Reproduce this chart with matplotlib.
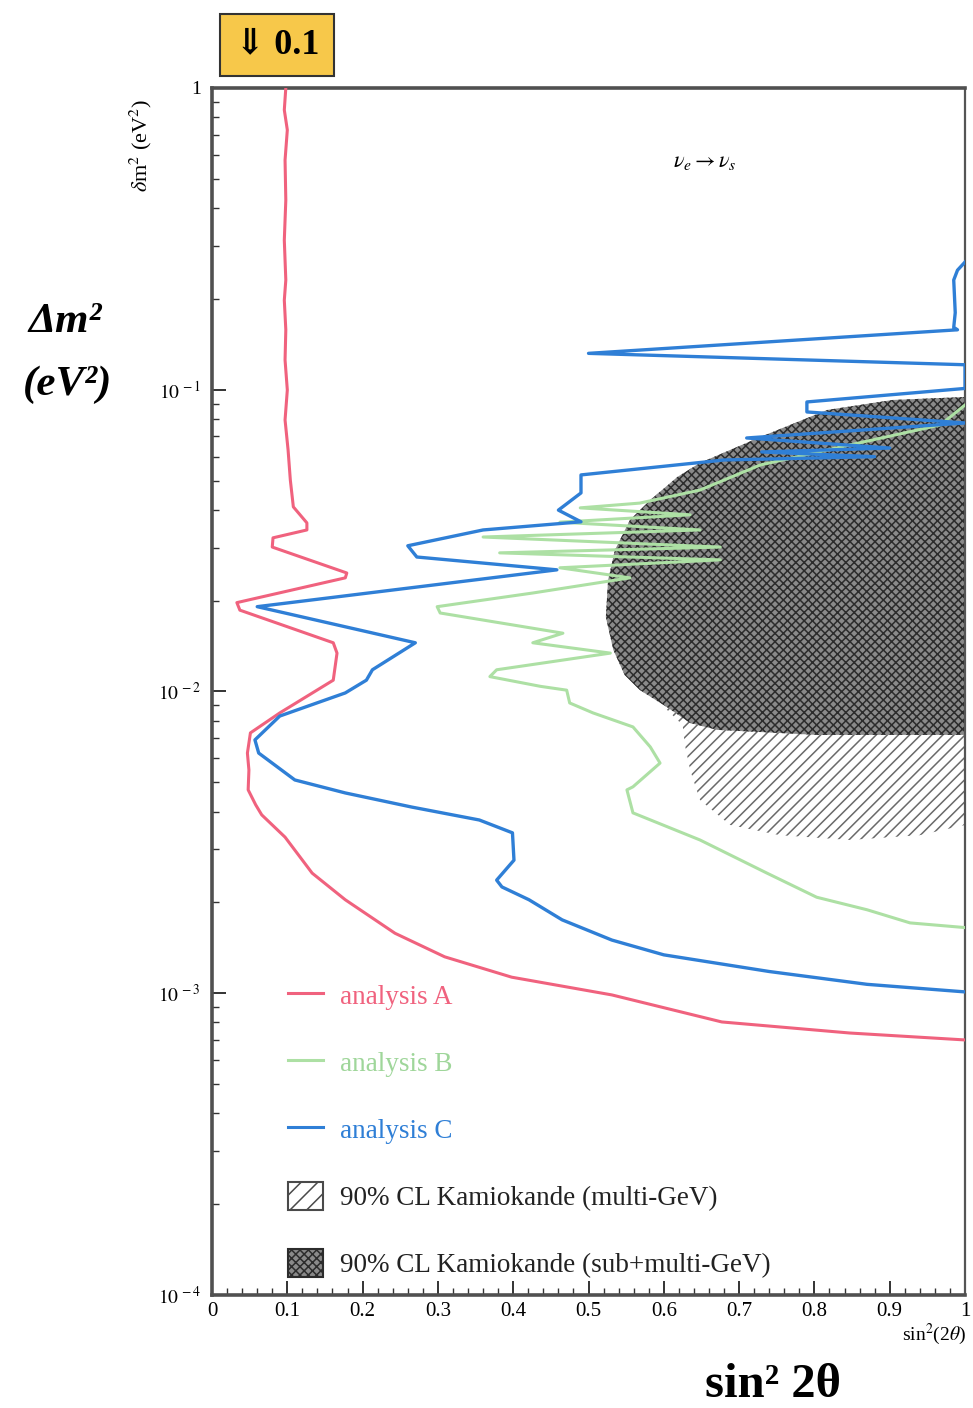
import math
import matplotlib.pyplot as plt
from matplotlib.lines import Line2D
from matplotlib.patches import Patch
from matplotlib.ticker import LogLocator, MultipleLocator, FuncFormatter, NullFormatter

plt.rcParams["font.family"] = ["Liberation Serif", "DejaVu Serif"]
plt.rcParams["mathtext.fontset"] = "stix"
plt.rcParams["hatch.linewidth"] = 1.1

# 90% CL exclusion contours, nu_e -> nu_s
a_sin2 = [0.098, 0.096, 0.100, 0.097, 0.098, 0.096, 0.098, 0.096, 0.098, 0.097,
          0.100, 0.097, 0.101, 0.104, 0.108, 0.126, 0.126, 0.081, 0.080, 0.179,
          0.177, 0.033, 0.037, 0.161, 0.166, 0.161, 0.090, 0.051, 0.047, 0.049,
          0.048, 0.058, 0.066, 0.097, 0.133, 0.177, 0.243, 0.309, 0.398, 0.531,
          0.677, 0.847, 1.0]
a_dm2 = [1.0, 0.846, 0.726, 0.577, 0.425, 0.313, 0.231, 0.198, 0.158, 0.1255,
         0.0998, 0.0794, 0.0632, 0.0502, 0.0409, 0.0362, 0.0343, 0.0323, 0.0301, 0.0247,
         0.0238, 0.0197, 0.0186, 0.0145, 0.0134, 0.0109, 0.00849, 0.00729, 0.00625, 0.00549,
         0.00472, 0.00421, 0.00390, 0.00329, 0.00250, 0.00204, 0.00158, 0.00132, 0.00113, 0.000987,
         0.000803, 0.000738, 0.000700]

b_sin2 = [1.0, 0.927, 0.870, 0.803, 0.737, 0.648, 0.559, 0.551, 0.559, 0.595,
          0.582, 0.559, 0.506, 0.475, 0.471, 0.436, 0.369, 0.378, 0.529, 0.426,
          0.466, 0.303, 0.299, 0.426, 0.555, 0.462, 0.675, 0.382, 0.675, 0.360,
          0.648, 0.462, 0.635, 0.489, 0.568, 0.648, 0.728, 0.847, 0.967, 1.0]
b_dm2 = [0.00165, 0.00171, 0.00189, 0.00208, 0.00250, 0.00322, 0.00396, 0.00472, 0.00483, 0.00579,
         0.00655, 0.00763, 0.00849, 0.00916, 0.0101, 0.0104, 0.0112, 0.0118, 0.0134, 0.0145,
         0.0156, 0.0182, 0.0191, 0.0212, 0.0238, 0.0257, 0.0273, 0.0288, 0.0301, 0.0325,
         0.0343, 0.0364, 0.0385, 0.0406, 0.0421, 0.0465, 0.0563, 0.0656, 0.0764, 0.089]

c_sin2 = [1.0, 0.99, 0.985, 0.987, 0.985, 0.99, 0.50, 1.0, 1.0, 0.79,
          0.79, 1.0, 0.71, 0.90, 0.73, 0.88, 0.68, 0.49, 0.49, 0.46,
          0.49, 0.36, 0.26, 0.272, 0.458, 0.06, 0.27, 0.213, 0.205, 0.177,
          0.09, 0.057, 0.062, 0.11, 0.177, 0.265, 0.355, 0.399, 0.401, 0.378,
          0.385, 0.421, 0.465, 0.531, 0.60, 0.74, 0.87, 1.0]
c_dm2 = [0.265, 0.249, 0.231, 0.180, 0.161, 0.158, 0.132, 0.121, 0.101, 0.0911,
         0.0844, 0.0776, 0.0692, 0.0641, 0.0622, 0.0600, 0.0585, 0.0522, 0.0455, 0.0399,
         0.0365, 0.0343, 0.0304, 0.0279, 0.0253, 0.0191, 0.0145, 0.0118, 0.0109, 0.00989,
         0.00829, 0.00691, 0.00625, 0.00509, 0.00461, 0.00414, 0.00375, 0.00340, 0.00276, 0.00237,
         0.00225, 0.00204, 0.00175, 0.00150, 0.00134, 0.00118, 0.00107, 0.00101]

# Kamiokande allowed regions
kam_multi_sin2 = [1.0, 0.80, 0.66, 0.60, 0.625, 0.628, 0.635, 0.648, 0.688, 0.754, 0.847, 0.94, 1.0]
kam_multi_dm2 = [0.09, 0.05, 0.02, 0.0089, 0.00774, 0.00665, 0.00549, 0.00437, 0.00361, 0.00334,
                 0.00322, 0.00334, 0.00361]

kam_sub_sin2 = [1.0, 0.904, 0.817, 0.728, 0.648, 0.618, 0.582, 0.555, 0.535, 0.526,
                0.523, 0.533, 0.548, 0.568, 0.604, 0.635, 0.671, 0.803, 1.0]
kam_sub_dm2 = [0.0946, 0.0925, 0.0857, 0.0697, 0.0572, 0.0514, 0.0431, 0.0370, 0.0294, 0.0234,
               0.01765, 0.01372, 0.01134, 0.01012, 0.00888, 0.00786, 0.00746, 0.00718, 0.00718]

red = "#f0627e"
green = "#ade0a4"
blue = "#2f7fd6"
cross_face = "#8a8a8a"
cross_line = "#2c2c2c"

fig = plt.figure(figsize=(9.73, 14.08), dpi=100)
ax = fig.add_axes([0.2179, 0.0803, 0.7739, 0.8572])

ax.fill(kam_multi_sin2, kam_multi_dm2, facecolor="white", edgecolor="#6a6a6a",
        hatch="///", linewidth=0, zorder=1)
ax.fill(kam_sub_sin2, kam_sub_dm2, facecolor=cross_face, edgecolor=cross_line,
        hatch="xxxx", linewidth=0, zorder=2)

ax.plot(b_sin2, b_dm2, color=green, lw=2.2, zorder=3)
ax.plot(a_sin2, a_dm2, color=red, lw=2.2, zorder=4)
ax.plot(c_sin2, c_dm2, color=blue, lw=2.4, zorder=5)

ax.set_xlim(0, 1)
ax.set_yscale("log")
ax.set_ylim(1e-4, 1)

ax.xaxis.set_major_locator(MultipleLocator(0.1))
ax.xaxis.set_minor_locator(MultipleLocator(0.02))
ax.xaxis.set_major_formatter(FuncFormatter(lambda v, p: f"{v:g}"))
ax.yaxis.set_major_locator(LogLocator(base=10))
ax.yaxis.set_minor_locator(LogLocator(base=10, subs=range(2, 10)))
ax.yaxis.set_minor_formatter(NullFormatter())
ax.yaxis.set_major_formatter(FuncFormatter(
    lambda v, p: "1" if v >= 1 else r"$10^{\,%d}$" % round(math.log10(v))))

ax.tick_params(which="both", direction="in", top=False, right=False, color="#333333")
ax.tick_params(which="major", length=10, width=1.4)
ax.tick_params(which="minor", length=5, width=1.0)
ax.tick_params(axis="x", labelsize=15, pad=5)
ax.tick_params(axis="y", labelsize=14, pad=8)

for side in ["top", "left", "bottom"]:
    ax.spines[side].set_linewidth(2.6)
    ax.spines[side].set_color("#505050")
ax.spines["right"].set_linewidth(1.6)
ax.spines["right"].set_color("#555555")

ax.text(0.655, 0.938, r"$\nu_e \rightarrow \nu_s$", transform=ax.transAxes,
        fontsize=16, ha="center", va="center")

handles = [
    Line2D([], [], color=red, lw=2.2),
    Line2D([], [], color=green, lw=2.2),
    Line2D([], [], color=blue, lw=2.2),
    Patch(facecolor="white", edgecolor="#4a4a4a", hatch="//", lw=1.5),
    Patch(facecolor=cross_face, edgecolor=cross_line, hatch="xxxx", lw=1.5),
]
labels = ["analysis A", "analysis B", "analysis C",
          "90% CL Kamiokande (multi-GeV)", "90% CL Kamiokande (sub+multi-GeV)"]
leg = ax.legend(handles, labels, loc="lower left", bbox_to_anchor=(0.101, 0.014),
                frameon=False, fontsize=19.5, handlelength=1.3, handleheight=1.2,
                handletextpad=0.6, labelspacing=1.4, borderpad=0, borderaxespad=0)
for t, c in zip(leg.get_texts(), [red, "#9fd69a", blue, "#222222", "#222222"]):
    t.set_color(c)

fig.text(141 / 973, 1 - 145 / 1408, r"$\delta$m$^2$ (eV$^2$)", rotation=90,
         fontsize=16, ha="center", va="center")
fig.text(966 / 973, 1 - 1334 / 1408, r"sin$^2$(2$\theta$)", fontsize=14,
         ha="right", va="center")
fig.text(65 / 973, 1 - 322 / 1408, "Δm²", fontsize=31, fontweight="bold",
         fontstyle="italic", ha="center", va="center")
fig.text(68 / 973, 1 - 385 / 1408, "(eV²)", fontsize=31, fontweight="bold",
         fontstyle="italic", ha="center", va="center")
fig.text(773 / 973, 1 - 1385 / 1408, "sin² 2θ", fontsize=35, fontweight="bold",
         ha="center", va="center")
fig.text(277 / 973, 1 - 45 / 1408, "⇓ 0.1", fontsize=26, fontweight="bold",
         ha="center", va="center",
         bbox=dict(boxstyle="square,pad=0.4", facecolor="#f7c84a", edgecolor="#333333", lw=1.5))

fig.savefig("out.png", dpi=100)
